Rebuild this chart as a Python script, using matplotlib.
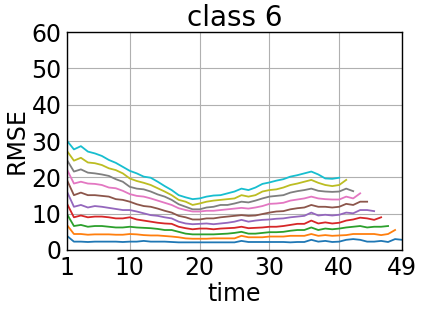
import matplotlib
matplotlib.use("Agg")
import matplotlib.pyplot as plt
import numpy as np

title = "class 6"
xlabel = "time"
ylabel = "RMSE"
xticks = [1, 10, 20, 30, 40, 49]
yticks = [0, 10, 20, 30, 40, 50, 60]

s0 = [3.9, 2.3, 2.3, 2.2, 2.3, 2.3, 2.3, 2.3, 2.2, 2.3, 2.3, 2.5, 2.3, 2.3, 2.3, 2.2, 2.1, 2.1, 2.1, 2.1,
      2.1, 2.1, 2.1, 2.1, 2.1, 2.5, 2.2, 2.2, 2.2, 2.2, 2.2, 2.2, 2.1, 2.2, 2.2, 2.8, 2.3, 2.5, 2.2, 2.3,
      2.8, 3.0, 2.8, 2.3, 2.3, 2.5, 2.2, 3.0, 2.8]
s1 = [6.9, 4.4, 4.4, 4.2, 4.3, 4.3, 4.3, 4.2, 4.2, 4.4, 4.3, 4.1, 4.0, 4.0, 3.85, 3.7, 3.5, 3.2, 3.1, 3.1,
      3.1, 3.2, 3.2, 3.2, 3.2, 3.9, 3.5, 3.5, 3.5, 3.7, 3.7, 3.7, 3.9, 3.9, 3.9, 4.4, 3.9, 4.1, 3.9, 4.0,
      4.1, 4.4, 4.4, 4.4, 4.4, 4.1, 4.4, 5.5]
s2 = [9.9, 6.6, 6.9, 6.4, 6.6, 6.6, 6.4, 6.2, 6.2, 6.4, 6.2, 6.1, 6.0, 5.8, 5.5, 5.5, 5.0, 4.5, 4.3, 4.3,
      4.3, 4.3, 4.4, 4.5, 4.7, 5.0, 4.5, 4.5, 4.7, 4.9, 4.9, 5.0, 5.3, 5.5, 5.5, 6.2, 5.5, 5.9, 5.7, 5.9,
      6.2, 6.4, 6.6, 6.2, 6.4, 6.4, 6.6]
s3 = [12.8, 9.0, 9.5, 9.0, 9.2, 9.2, 9.0, 8.7, 8.7, 9.0, 8.4, 8.1, 7.8, 7.5, 7.3, 7.2, 6.4, 6.0, 5.7, 5.9,
      5.9, 5.7, 5.9, 6.0, 6.1, 6.4, 6.0, 6.1, 6.2, 6.4, 6.4, 6.6, 6.9, 7.2, 7.2, 8.1, 7.3, 7.6, 7.3, 7.5,
      8.1, 8.4, 8.9, 8.7, 8.3, 9.0]
s4 = [16.1, 11.9, 12.4, 11.7, 12.1, 11.9, 11.6, 11.3, 11.0, 11.0, 10.6, 10.1, 9.6, 9.4, 9.0, 8.7, 7.8, 7.3, 7.1, 7.2,
      7.3, 7.1, 7.3, 7.5, 7.8, 8.3, 7.8, 8.1, 8.3, 8.4, 8.6, 8.7, 9.0, 9.2, 9.4, 10.3, 9.5, 9.7, 9.5, 9.7,
      10.3, 10.1, 11.0, 11.0, 10.7]
s5 = [19.3, 15.1, 15.8, 15.1, 15.1, 14.9, 14.7, 14.0, 13.8, 13.3, 12.6, 12.1, 11.9, 11.4, 10.8, 10.3, 9.4, 9.0, 8.4, 8.4,
      8.7, 8.7, 9.0, 9.2, 9.4, 9.6, 9.4, 9.5, 9.9, 10.3, 10.6, 10.7, 11.2, 11.5, 11.7, 12.4, 11.9, 11.9, 11.7, 11.9,
      12.7, 12.4, 13.3, 13.3]
s6 = [22.2, 18.3, 18.8, 18.3, 18.2, 17.9, 17.2, 17.0, 16.3, 15.4, 14.9, 14.7, 14.2, 13.6, 13.0, 12.4, 11.5, 11.0, 10.6, 10.6,
      10.8, 10.8, 11.0, 11.2, 11.4, 11.6, 11.4, 11.7, 12.1, 12.7, 12.8, 13.0, 13.6, 13.9, 14.2, 14.7, 14.2, 14.0, 13.9, 13.9,
      14.7, 14.2, 15.6]
s7 = [24.8, 21.6, 22.2, 21.3, 21.1, 20.8, 20.4, 19.5, 18.8, 17.4, 16.9, 16.7, 16.1, 15.3, 14.7, 13.8, 12.6, 11.9, 11.2, 11.2,
      11.7, 11.9, 12.4, 12.4, 12.8, 13.3, 13.1, 13.6, 14.2, 14.7, 14.9, 15.1, 15.8, 16.2, 16.5, 16.9, 16.3, 16.1, 16.0, 16.1,
      16.9, 16.2]
s8 = [27.3, 24.6, 25.4, 24.1, 23.9, 23.4, 22.5, 22.0, 21.1, 19.7, 19.0, 18.5, 17.9, 17.0, 16.1, 15.1, 13.8, 13.3, 12.4, 12.8,
      13.3, 13.6, 13.8, 14.0, 14.2, 15.1, 14.7, 15.1, 16.1, 16.5, 16.7, 17.2, 17.9, 18.3, 18.8, 19.3, 18.5, 17.9, 17.6, 17.9,
      19.3]
s9 = [30.1, 27.7, 28.6, 27.1, 26.6, 25.9, 24.8, 24.0, 22.9, 21.8, 21.1, 20.2, 19.9, 18.8, 17.6, 16.5, 15.1, 14.5, 14.0, 14.2,
      14.7, 15.0, 15.1, 15.6, 16.1, 16.9, 16.5, 17.2, 18.2, 18.6, 19.1, 19.5, 20.2, 20.6, 21.1, 21.6, 20.8, 19.7, 19.6, 19.9]

series = [s0, s1, s2, s3, s4, s5, s6, s7, s8, s9]
colors = plt.rcParams['axes.prop_cycle'].by_key()['color']

fig = plt.figure(figsize=(4.21, 3.09), dpi=100)
ax = fig.add_axes([0.159, 0.191, 0.796, 0.705])
for i, s in enumerate(series):
    t = np.arange(1, len(s) + 1)
    ax.plot(t, s, color=colors[i % len(colors)], linewidth=1.3)

ax.set_xlim(1, 49)
ax.set_ylim(0, 60)
ax.set_xticks(xticks)
ax.set_yticks(yticks)
ax.grid(True, color='#b0b0b0', linewidth=0.8)
ax.tick_params(length=0, labelsize=17, pad=4)
for sp in ax.spines.values():
    sp.set_linewidth(1.0)
    sp.set_color('black')
ax.set_title(title, fontsize=20, pad=4)
ax.set_xlabel(xlabel, fontsize=17, labelpad=2)
ax.set_ylabel(ylabel, fontsize=17, labelpad=2)
fig.savefig("out.png", dpi=100)
